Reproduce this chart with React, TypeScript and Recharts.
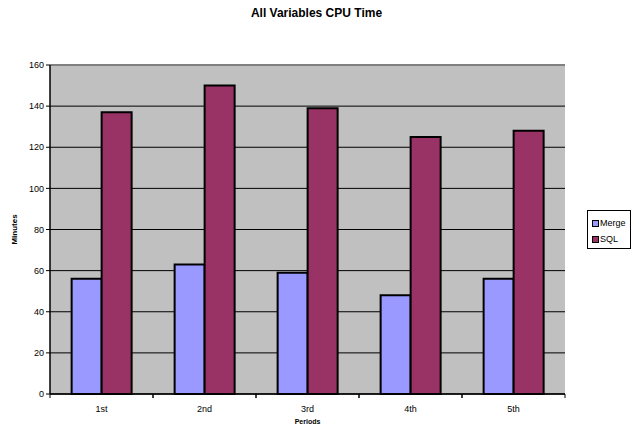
import { Bar, BarChart, CartesianGrid, Legend, ReferenceLine, XAxis, YAxis } from "recharts";

const periods = ["1st", "2nd", "3rd", "4th", "5th"];
const mergeMinutes = [56, 63, 59, 48, 56];
const sqlMinutes = [137, 150, 139, 125, 128];
const yTicks = [0, 20, 40, 60, 80, 100, 120, 140, 160];

const data = periods.map((period, i) => ({
	period,
	Merge: mergeMinutes[i],
	SQL: sqlMinutes[i],
}));

const FONT = "'Liberation Sans', Arial, sans-serif";
const W = 633;
const H = 431;
const PLOT_LEFT = 50;
const PLOT_RIGHT = 565;
const HALF_BAND = (PLOT_RIGHT - PLOT_LEFT) / periods.length / 2;

// recharts hands the tick its text anchor point, 8px below the axis line
function PeriodTick({ x, y, payload }: any) {
	const axisY = y - 8;
	return (
		<g>
			<line x1={x - HALF_BAND} x2={x - HALF_BAND} y1={axisY} y2={axisY + 4} stroke="#000" />
			<line x1={x + HALF_BAND} x2={x + HALF_BAND} y1={axisY} y2={axisY + 4} stroke="#000" />
			<text x={x} y={axisY + 18} textAnchor="middle" fontSize={9} fontFamily={FONT} fill="#000">
				{payload.value}
			</text>
		</g>
	);
}

function LegendBox({ payload }: any) {
	return (
		<div
			style={{
				border: "1px solid #000",
				background: "#fff",
				width: 44,
				height: 39,
				boxSizing: "border-box",
				fontFamily: FONT,
				fontSize: 9,
				paddingLeft: 4,
				paddingTop: 4,
			}}
		>
			{(payload || []).map((item: any) => (
				<div key={item.value} style={{ display: "flex", alignItems: "center", height: 16 }}>
					<span
						style={{
							display: "inline-block",
							width: 5,
							height: 5,
							background: item.color,
							border: "1px solid #000",
							marginRight: 1,
						}}
					/>
					<span>{item.value}</span>
				</div>
			))}
		</div>
	);
}

export default function App() {
	return (
		<div style={{ position: "absolute", left: 0, top: 0, width: W, height: H, background: "#fff" }}>
			<div
				style={{
					position: "absolute",
					left: 0,
					top: 6,
					width: W,
					textAlign: "center",
					fontFamily: FONT,
					fontWeight: "bold",
					fontSize: 12,
				}}
			>
				All Variables CPU Time
			</div>
			<BarChart
				width={W}
				height={H}
				data={data}
				margin={{ top: 65, right: 68, left: 10, bottom: 17 }}
				barCategoryGap="21%"
				barGap={0}
			>
				<CartesianGrid vertical={false} stroke="#000" fill="#C0C0C0" fillOpacity={1} />
				<XAxis
					dataKey="period"
					height={20}
					axisLine={{ stroke: "#000", strokeWidth: 1.5 }}
					tickLine={false}
					tick={<PeriodTick />}
					interval={0}
					label={{
						content: ({ viewBox }: any) => (
							<text
								x={viewBox.x + viewBox.width / 2}
								y={viewBox.y + 30}
								textAnchor="middle"
								fontSize={7}
								fontWeight="bold"
								fontFamily={FONT}
							>
								Periods
							</text>
						),
					}}
				/>
				<YAxis
					width={40}
					domain={[0, 160]}
					ticks={yTicks}
					interval={0}
					tickSize={4}
					axisLine={{ stroke: "#000", strokeWidth: 1.5 }}
					tickLine={{ stroke: "#000" }}
					tick={{ fontSize: 9, fill: "#000", fontFamily: FONT }}
					label={{
						content: ({ viewBox }: any) => {
							const cx = 14;
							const cy = viewBox.y + viewBox.height / 2;
							return (
								<text
									x={cx}
									y={cy}
									transform={`rotate(-90 ${cx} ${cy})`}
									textAnchor="middle"
									dominantBaseline="central"
									fontSize={8}
									fontWeight="bold"
									fontFamily={FONT}
								>
									Minutes
								</text>
							);
						},
					}}
				/>
				<YAxis
					yAxisId="r"
					orientation="right"
					width={0}
					domain={[0, 160]}
					tick={false}
					tickLine={false}
					axisLine={{ stroke: "#808080", strokeWidth: 2 }}
				/>
				<ReferenceLine y={160} stroke="#808080" strokeWidth={2} />
				<Legend
					layout="vertical"
					align="center"
					verticalAlign="middle"
					content={<LegendBox />}
					wrapperStyle={{ left: 587, top: 210, width: 46, height: 41 }}
				/>
				<Bar dataKey="Merge" fill="#9999FF" stroke="#000" strokeWidth={2} isAnimationActive={false} />
				<Bar dataKey="SQL" fill="#993366" stroke="#000" strokeWidth={2} isAnimationActive={false} />
			</BarChart>
		</div>
	);
}
